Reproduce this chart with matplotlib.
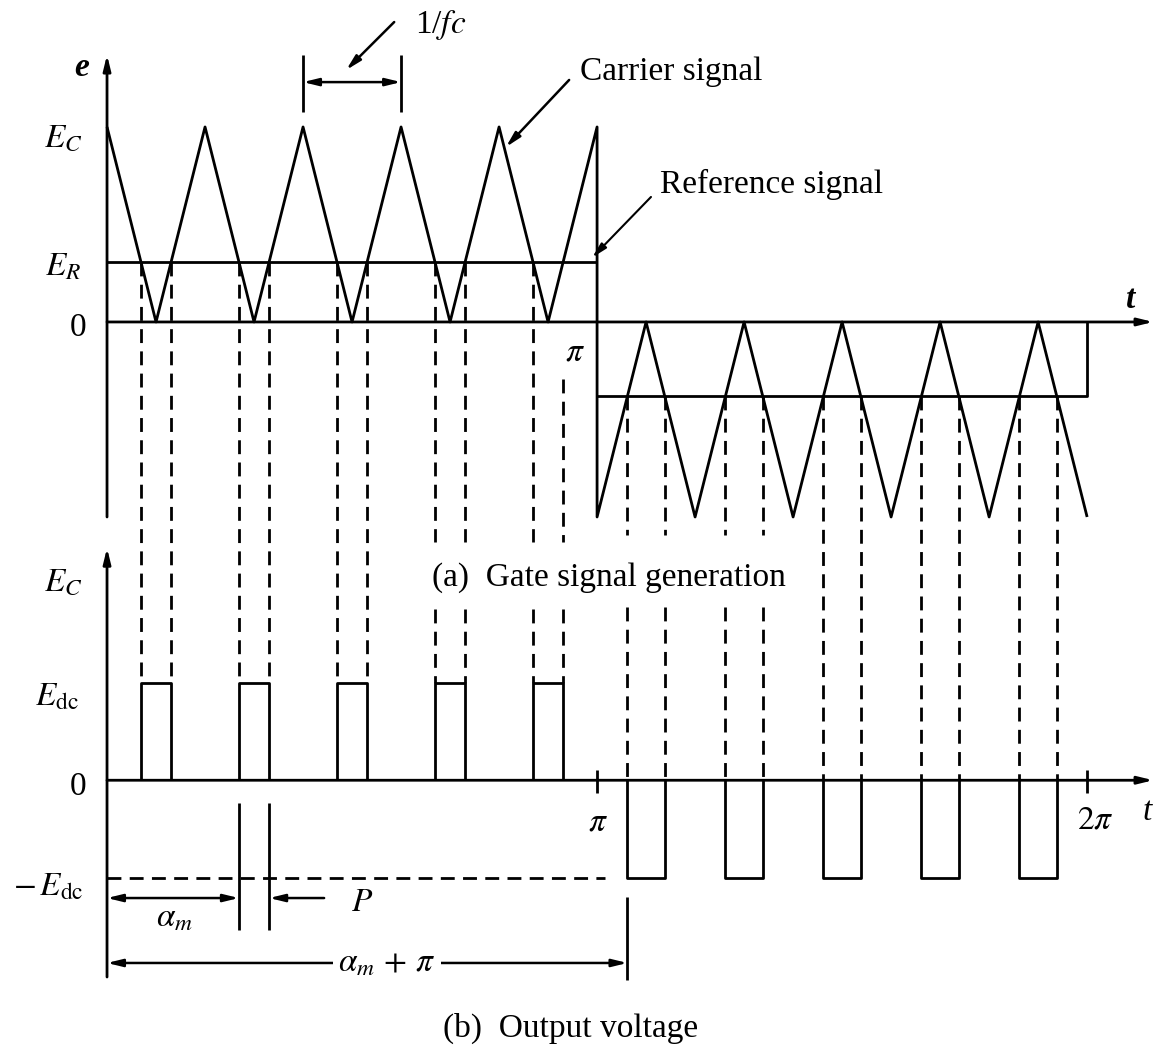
import matplotlib
matplotlib.use("Agg")
import matplotlib.pyplot as plt
import numpy as np

plt.rcParams['font.family'] = ['Liberation Serif', 'DejaVu Serif']
plt.rcParams['mathtext.fontset'] = 'stix'

# time in units of pi, voltages in units of E_C
# carrier vertices, first half (0..pi) and second half (pi..2pi)
carrier_a_t = [0.0, 0.1, 0.2, 0.3, 0.4, 0.5, 0.6, 0.7, 0.8, 0.9, 1.0]
carrier_a_e = [1, 0, 1, 0, 1, 0, 1, 0, 1, 0, 1]
carrier_b_t = [1.0, 1.1, 1.2, 1.3, 1.4, 1.5, 1.6, 1.7, 1.8, 1.9, 2.0]
carrier_b_e = [-1, 0, -1, 0, -1, 0, -1, 0, -1, 0, -1]

E_R = 0.31      # reference level, first half
E_R2 = -0.38    # reference level, second half
E_DC = 0.5      # output pulse height
Y0_B = -2.35    # where the zero line of panel (b) sits


def crossings(ts, es, level):
    out = []
    for i in range(len(ts) - 1):
        e0, e1 = es[i], es[i + 1]
        if (e0 - level) * (e1 - level) < 0:
            out.append(ts[i] + (level - e0) / (e1 - e0) * (ts[i + 1] - ts[i]))
    return out


cross_a = crossings(carrier_a_t, carrier_a_e, E_R)
cross_b = crossings(carrier_b_t, carrier_b_e, E_R2)

fig = plt.figure(figsize=(11.67, 10.48), dpi=100)
ax = fig.add_axes([0, 0, 1, 1])
ax.set_xlim(-0.2184, 2.163)
ax.set_ylim(-3.723, 1.651)
ax.axis('off')

LW = 2.0
k = dict(color='k', lw=LW, solid_capstyle='butt')


def arrow(x0, y0, x1, y1, style='-|>', lw=LW):
    ax.annotate('', xy=(x1, y1), xytext=(x0, y0),
                arrowprops=dict(arrowstyle=style + ',head_length=0.9,head_width=0.22',
                                color='k', lw=lw, shrinkA=0, shrinkB=0))


# ---- (a) gate signal generation
arrow(0, -1.0, 0, 1.37)
arrow(0, 0, 2.135, 0)
ax.plot(carrier_a_t + carrier_b_t, carrier_a_e + carrier_b_e, **k)
ax.plot([0, 1], [E_R, E_R], **k)
ax.plot([1, 2, 2], [E_R2, E_R2, 0], **k)

# dashed projections
for i, t in enumerate(cross_a):
    top = E_R if i != 9 else -0.29
    if 0.63 < t < 1.40:
        ax.plot([t, t], [top, -1.13], color='k', lw=LW, dashes=(5, 3))
        ax.plot([t, t], [-1.47, Y0_B + E_DC], color='k', lw=LW, dashes=(5, 3))
    else:
        ax.plot([t, t], [top, Y0_B + E_DC], color='k', lw=LW, dashes=(5, 3))
for t in cross_b:
    if 0.63 < t < 1.40:
        ax.plot([t, t], [E_R2, -1.09], color='k', lw=LW, dashes=(5, 3))
        ax.plot([t, t], [-1.46, Y0_B], color='k', lw=LW, dashes=(5, 3))
    else:
        ax.plot([t, t], [E_R2, Y0_B], color='k', lw=LW, dashes=(5, 3))

fs = 24
ax.text(-0.051, 1.303, 'e', fontsize=fs, style='italic', weight='bold', ha='center', va='center')
ax.text(-0.090, 0.944, r'$E_C$', fontsize=fs, ha='center', va='center')
ax.text(-0.090, 0.282, r'$E_R$', fontsize=fs, ha='center', va='center')
ax.text(-0.059, -0.03, '0', fontsize=fs, ha='center', va='center')
ax.text(2.088, 0.113, 't', fontsize=fs, style='italic', weight='bold', ha='center', va='center')
ax.text(0.955, -0.154, r'$\pi$', fontsize=fs, ha='center', va='center')

# 1/fc dimension
t_p1, t_p2 = carrier_a_t[4], carrier_a_t[6]
ax.plot([t_p1, t_p1], [1.077, 1.37], **k)
ax.plot([t_p2, t_p2], [1.077, 1.37], **k)
arrow(t_p1, 1.23, t_p2, 1.23, style='<|-|>', lw=1.8)
ax.text(0.68, 1.523, r'1/$fc$', fontsize=fs, ha='center', va='center')
arrow(0.586, 1.538, 0.488, 1.292, lw=1.8)

ax.text(0.965, 1.282, 'Carrier signal', fontsize=fs, ha='left', va='center')
arrow(0.943, 1.241, 0.814, 0.897, lw=1.8)
ax.text(1.129, 0.703, 'Reference signal', fontsize=fs, ha='left', va='center')
arrow(1.110, 0.641, 0.99, E_R + 0.02, lw=1.5)

ax.text(0.663, -1.313, '(a)  Gate signal generation', fontsize=fs, ha='left', va='center')

# ---- (b) output voltage
arrow(0, -3.359, 0, -1.159)
arrow(0, Y0_B, 2.135, Y0_B)
for i in range(0, len(cross_a), 2):
    t0, t1 = cross_a[i], cross_a[i + 1]
    ax.plot([t0, t0, t1, t1], [Y0_B, Y0_B + E_DC, Y0_B + E_DC, Y0_B], **k)
for i in range(0, len(cross_b), 2):
    t0, t1 = cross_b[i], cross_b[i + 1]
    ax.plot([t0, t0, t1, t1], [Y0_B, Y0_B - E_DC, Y0_B - E_DC, Y0_B], **k)
for t in (1.0, 2.0):
    ax.plot([t, t], [Y0_B - 0.065, Y0_B + 0.055], **k)

ax.plot([0, 1.016], [Y0_B - E_DC, Y0_B - E_DC], color='k', lw=LW, dashes=(5, 3))

ax.text(-0.090, -1.333, r'$E_C$', fontsize=fs, ha='center', va='center')
ax.text(-0.102, -1.923, r'$E_{\mathrm{dc}}$', fontsize=fs, ha='center', va='center')
ax.text(-0.059, -2.385, '0', fontsize=fs, ha='center', va='center')
ax.text(-0.120, -2.897, r'$-\,E_{\mathrm{dc}}$', fontsize=fs, ha='center', va='center')
ax.text(1.002, -2.564, r'$\pi$', fontsize=fs, ha='center', va='center')
ax.text(2.016, -2.554, r'$2\pi$', fontsize=fs, ha='center', va='center')
ax.text(2.122, -2.513, 't', fontsize=fs, style='italic', ha='center', va='center')

# alpha_m and P dimensions
a_l, a_r = cross_a[2], cross_a[3]
ax.plot([a_l, a_l], [-2.467, -3.118], **k)
ax.plot([a_r, a_r], [-2.467, -3.118], **k)
arrow(0, -2.954, a_l, -2.954, style='<|-|>', lw=1.8)
arrow(0.443, -2.954, a_r, -2.954, lw=1.8)
ax.text(0.137, -3.056, r'$\alpha_m$', fontsize=fs, ha='center', va='center')
ax.text(0.520, -2.979, r'$P$', fontsize=fs, ha='center', va='center')

b_l = cross_b[0]
ax.plot([b_l, b_l], [-2.949, -3.374], **k)
arrow(0, -3.287, b_l, -3.287, style='<|-|>', lw=1.8)
ax.text(0.571, -3.287, r'$\alpha_m\,+\,\pi$', fontsize=fs, ha='center', va='center',
        bbox=dict(facecolor='white', edgecolor='none', pad=4))

ax.text(0.945, -3.621, '(b)  Output voltage', fontsize=fs, ha='center', va='center')

fig.savefig('out.png', dpi=100, facecolor='white')
